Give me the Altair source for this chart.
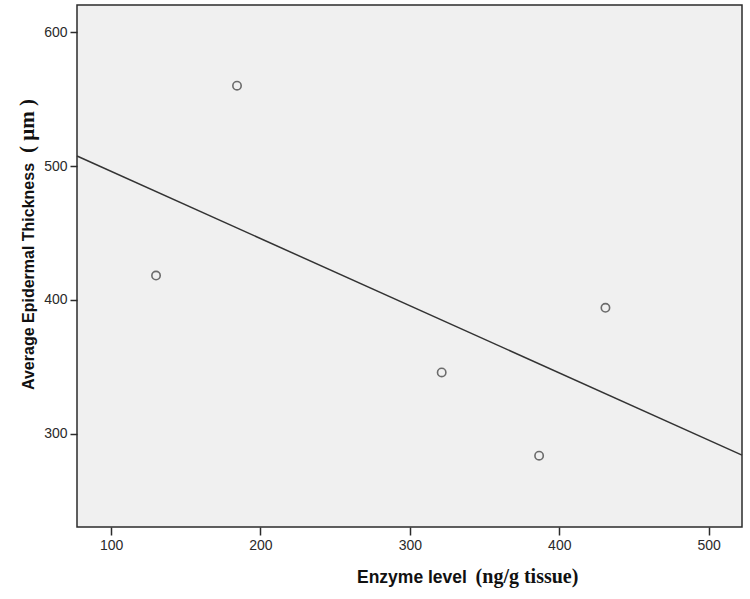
import altair as alt
import pandas as pd

# Data
enzyme = [130.1, 184.3, 321.3, 386.5, 430.9]
thickness = [418.2, 560.1, 345.8, 283.6, 394.1]

x_domain = [77.2, 522.3]
y_domain = [230.3, 620.4]
x_ticks = [100, 200, 300, 400, 500]
y_ticks = [300, 400, 500, 600]

df = pd.DataFrame({"enzyme": enzyme, "thickness": thickness})

INK = "#2b2b2b"

xs = alt.Scale(domain=x_domain, nice=False, zero=False)
ys = alt.Scale(domain=y_domain, nice=False, zero=False)

x_axis = alt.Axis(values=x_ticks, title=None, grid=False, domain=False,
                  tickSize=8, tickWidth=1.5, tickColor=INK,
                  labelFont="Liberation Sans", labelFontSize=14, labelColor="#2a2a2a",
                  labelPadding=3)
y_axis = alt.Axis(values=y_ticks, title=None, grid=False, domain=False,
                  tickSize=7, tickWidth=1.5, tickColor=INK,
                  labelFont="Liberation Sans", labelFontSize=14, labelColor="#2a2a2a",
                  labelPadding=3)

base = alt.Chart(df)

points = base.mark_point(shape="circle", filled=False, size=70, stroke="#333333",
                         strokeWidth=1.6).encode(
    x=alt.X("enzyme:Q", scale=xs, axis=x_axis),
    y=alt.Y("thickness:Q", scale=ys, axis=y_axis),
)

fit = base.transform_regression(
    "enzyme", "thickness", extent=x_domain
).mark_line(color="#333333", strokeWidth=1.5).encode(
    x=alt.X("enzyme:Q", scale=xs),
    y=alt.Y("thickness:Q", scale=ys),
)

tdf = pd.DataFrame({"k": [0]})
tbase = alt.Chart(tdf)

y_title_a = tbase.mark_text(text="Average Epidermal Thickness", angle=270, align="left",
                            baseline="alphabetic", font="Liberation Sans", fontWeight="bold",
                            fontSize=16, color="#111111").encode(
    x=alt.value(-43.5), y=alt.value(385))
y_title_b = tbase.mark_text(text="( μm )", angle=270, align="center",
                            baseline="alphabetic", font="Liberation Serif", fontWeight="bold",
                            fontSize=21, color="#111111").encode(
    x=alt.value(-43.5), y=alt.value(121))

x_title_a = tbase.mark_text(text="Enzyme level", align="left", baseline="alphabetic",
                            font="Liberation Sans", fontWeight="bold", fontSize=17.5,
                            color="#111111").encode(x=alt.value(280), y=alt.value(578))
x_title_b = tbase.mark_text(text="(ng/g tissue)", align="left", baseline="alphabetic",
                            font="Liberation Serif", fontWeight="bold", fontSize=20,
                            color="#111111").encode(x=alt.value(398.6), y=alt.value(578))

chart = alt.layer(fit, points, y_title_a, y_title_b, x_title_a, x_title_b).properties(
    width=665, height=522,
    padding={"left": 77, "top": 5, "right": 8, "bottom": 72},
    autosize=alt.AutoSizeParams(type="none"),
    background="white",
).configure_view(
    fill="#f0f0f0", stroke=INK, strokeWidth=1.5
)

chart.save("out.html", embed_options={"renderer": "svg", "actions": False})
